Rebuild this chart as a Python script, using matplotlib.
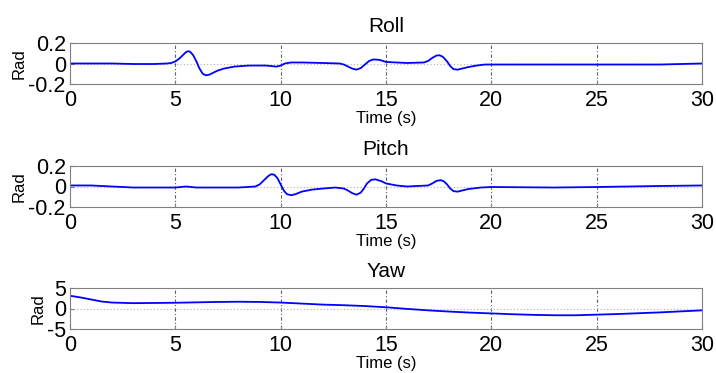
import matplotlib
matplotlib.use("Agg")
import matplotlib.pyplot as plt

plt.rcParams['font.family'] = ['Liberation Sans', 'DejaVu Sans']

roll_t = [0, 1, 2, 3, 4, 4.6, 4.8, 5.0, 5.2, 5.35, 5.5, 5.6, 5.7, 5.85, 6.0, 6.15, 6.3, 6.45, 6.6, 6.8,
          7.0, 7.3, 7.8, 8.5, 9.3, 9.8, 10.0, 10.2, 10.5, 11, 12, 12.8, 13.0, 13.2, 13.4, 13.6, 13.8,
          14.0, 14.2, 14.4, 14.7, 15, 16, 16.8, 17.0, 17.2, 17.4, 17.55, 17.7, 17.9, 18.05, 18.2, 18.4,
          18.6, 18.9, 19.3, 19.7, 20, 25, 28, 30]
roll_v = [0, 0, 0, -0.005, -0.005, 0, 0.005, 0.02, 0.05, 0.08, 0.11, 0.12, 0.115, 0.08, 0.02, -0.05,
          -0.1, -0.115, -0.11, -0.09, -0.07, -0.05, -0.03, -0.02, -0.02, -0.03, -0.02, 0.0, 0.01, 0.01,
          0.005, 0.0, -0.01, -0.03, -0.05, -0.06, -0.045, -0.01, 0.025, 0.04, 0.035, 0.015, 0.005, 0.01,
          0.025, 0.055, 0.078, 0.08, 0.065, 0.02, -0.025, -0.055, -0.06, -0.05, -0.035, -0.02, -0.01,
          -0.01, -0.01, -0.01, 0.0]

pitch_t = [0, 1, 2, 3, 4, 5, 5.5, 6, 7, 8, 8.8, 9.0, 9.2, 9.4, 9.55, 9.7, 9.85, 10.0, 10.15, 10.3,
           10.5, 10.7, 11, 11.5, 12, 12.6, 13, 13.2, 13.4, 13.6, 13.8, 13.95, 14.1, 14.3, 14.5, 14.8, 15,
           15.5, 16, 17, 17.2, 17.4, 17.6, 17.75, 17.9, 18.05, 18.2, 18.4, 18.6, 18.9, 19.5, 20, 23, 25,
           28, 30]
pitch_v = [0.01, 0.01, 0.0, -0.01, -0.01, -0.01, 0.0, -0.01, -0.01, -0.01, 0.0, 0.02, 0.06, 0.1,
           0.12, 0.115, 0.08, 0.02, -0.04, -0.075, -0.085, -0.075, -0.05, -0.03, -0.02, -0.01, -0.02,
           -0.04, -0.065, -0.08, -0.06, -0.02, 0.03, 0.065, 0.07, 0.05, 0.03, 0.01, 0.0, 0.01, 0.03,
           0.055, 0.062, 0.05, 0.02, -0.02, -0.045, -0.05, -0.04, -0.025, -0.01, -0.005, -0.01, -0.005,
           0.005, 0.01]

yaw_t = [0, 0.5, 1, 1.5, 2, 3, 4, 5, 6, 7, 8, 9, 10, 11, 12, 13, 14, 15, 16, 17, 18, 19, 20, 21, 22, 23,
         24, 25, 26, 27, 28, 29, 30]
yaw_v = [3.1, 2.7, 2.2, 1.7, 1.45, 1.3, 1.35, 1.4, 1.5, 1.6, 1.65, 1.6, 1.45, 1.2, 0.95, 0.8, 0.6, 0.3,
         -0.1, -0.45, -0.75, -1.0, -1.2, -1.4, -1.55, -1.65, -1.65, -1.5, -1.35, -1.15, -0.95, -0.7, -0.45]

titles = ["Roll", "Pitch", "Yaw"]
xticks = [0, 5, 10, 15, 20, 25, 30]
yticks_small = [-0.2, 0, 0.2]
ylabels_small = ["-0.2", "0", "0.2"]
yticks_yaw = [-5, 0, 5]
ylabels_yaw = ["-5", "0", "5"]

fig = plt.figure(figsize=(7.16, 3.73), dpi=100)
left = 70 / 716
width = 632 / 716
h = 41 / 373
bottoms = [1 - 84 / 373, 1 - 207 / 373, 1 - 329 / 373]
series = [(roll_t, roll_v, yticks_small, ylabels_small),
          (pitch_t, pitch_v, yticks_small, ylabels_small),
          (yaw_t, yaw_v, yticks_yaw, ylabels_yaw)]

for b, title, (t, v, yt, yl) in zip(bottoms, titles, series):
    ax = fig.add_axes([left, b, width, h])
    ax.plot(t, v, color='#0000ff', lw=1.3)
    ax.set_xlim(0, 30)
    ax.set_ylim(yt[0], yt[-1])
    ax.set_xticks(xticks)
    ax.set_xticklabels([str(x) for x in xticks], fontsize=15.5)
    ax.set_yticks(yt)
    ax.set_yticklabels(yl, fontsize=15.5)
    ax.tick_params(axis='x', direction='in', length=3, color='#808080', pad=4)
    ax.tick_params(axis='y', direction='in', length=3, color='#808080', pad=3)
    for x in xticks[1:-1]:
        ax.axvline(x, color='#606060', lw=0.8, ls=(0, (3, 2, 1, 2)), zorder=0)
    ax.axhline(0, color='#b0b0b0', lw=0.8, ls=(0, (1, 2)), zorder=0)
    for s in ax.spines.values():
        s.set_color('#808080')
    ax.set_title(title, fontsize=15, pad=8)
    ax.set_xlabel("Time (s)", fontsize=12, labelpad=0)
    ax.set_ylabel("Rad", fontsize=12, labelpad=1)

fig.savefig("out.png", dpi=100)
